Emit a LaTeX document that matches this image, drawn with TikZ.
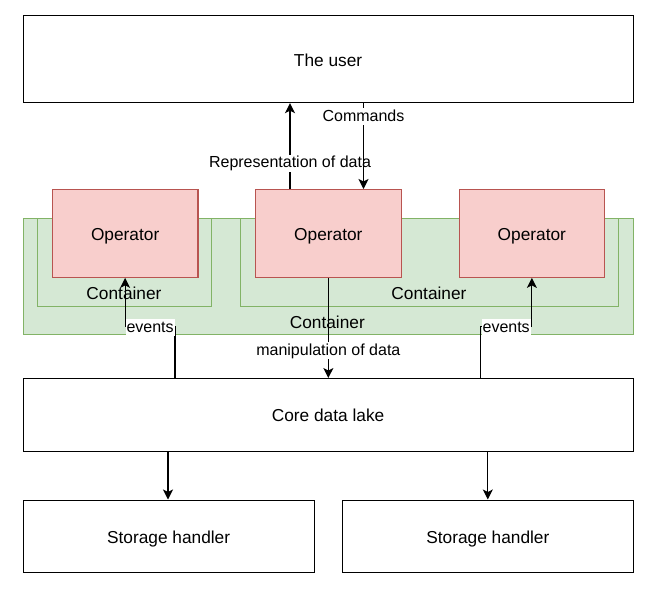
\documentclass[tikz,border=0pt]{standalone}
\usepackage{fontspec}
\setmainfont{Liberation Sans}
\usetikzlibrary{arrows.meta,calc}
\definecolor{redfill}{HTML}{F8CECC}
\definecolor{redline}{HTML}{B85450}
\definecolor{greenfill}{HTML}{D5E8D4}
\definecolor{greenline}{HTML}{82B366}
\begin{document}
\begin{tikzpicture}[x=1pt,y=-1pt, font=\fontsize{17.3}{20}\selectfont,
 box/.style={draw=black, fill=white, line width=1.2pt, rectangle, inner sep=0pt, anchor=north west, text height=14pt, text depth=0pt},
 op/.style={box, draw=redline, fill=redfill},
 cont/.style={box, draw=greenline, fill=greenfill},
 lbl/.style={inner sep=0.5pt},
 bglbl/.style={fill=white, inner sep=1pt, font=\fontsize{16}{19}\selectfont, text height=12pt, text depth=3pt},
 arr/.style={draw=black, line width=1.2pt, -{Stealth[length=10pt,width=10pt,inset=2.5pt]}}]
\useasboundingbox (0,0) rectangle (657,598);
% boxes
\node[box, minimum width=610pt, minimum height=87pt] (user) at (22.5,15) {The user};
\node[cont, minimum width=610pt, minimum height=116pt] (outer) at (22.5,218) {};
\node[cont, minimum width=174pt, minimum height=87.5pt] (inner1) at (37,218) {};
\node[cont, minimum width=377.5pt, minimum height=87.5pt] (inner2) at (240,218) {};
\node[lbl] (c1lbl) at (124,293.5) {Container};
\node[lbl] (c2lbl) at (429,293.5) {Container};
\node[lbl] (c3lbl) at (327.3,322.5) {Container};
\node[op, minimum width=145.5pt, minimum height=87.7pt] (op1) at (51.8,189) {Operator};
\node[op, minimum width=145.5pt, minimum height=87.7pt] (op2) at (255,189) {Operator};
\node[op, minimum width=145.5pt, minimum height=87.7pt] (op3) at (458.5,189) {Operator};
\node[box, minimum width=610pt, minimum height=72.5pt] (core) at (22.5,378) {Core data lake};
\node[box, minimum width=291pt, minimum height=72.5pt] (sh1) at (22.5,499.5) {Storage handler};
\node[box, minimum width=290.5pt, minimum height=72.5pt] (sh2) at (342,499.5) {Storage handler};
% connectors
\draw[arr] ([xshift=35pt]op2.north west) -- ([xshift=35pt]op2.north west |- user.south)
  node[bglbl, pos=0.30] (replbl) {Representation of data};
\draw[arr] ([xshift=108.5pt]op2.north west |- user.south) -- ([xshift=108.5pt]op2.north west)
  node[bglbl, pos=0.16] (cmdlbl) {Commands};
\draw[arr] (op2.south) -- (core.north -| op2.south)
  node[bglbl, pos=0.73] (manlbl) {manipulation of data};
\draw[arr] ([xshift=152.5pt]core.north west) -- ++(0,-51.5) -| node[bglbl, pos=0.25, yshift=-1pt] (ev1lbl) {events} (op1.south);
\draw[arr] ([xshift=458pt]core.north west) -- ++(0,-51.5) -| node[bglbl, pos=0.25, yshift=-1pt] (ev2lbl) {events} (op3.south);
\draw[arr] ([xshift=145.5pt]core.south west) -- ([xshift=145.5pt]core.south west |- sh1.north);
\draw[arr] ([xshift=465.3pt]core.south west) -- ([xshift=465.3pt]core.south west |- sh2.north);
\end{tikzpicture}
\end{document}
